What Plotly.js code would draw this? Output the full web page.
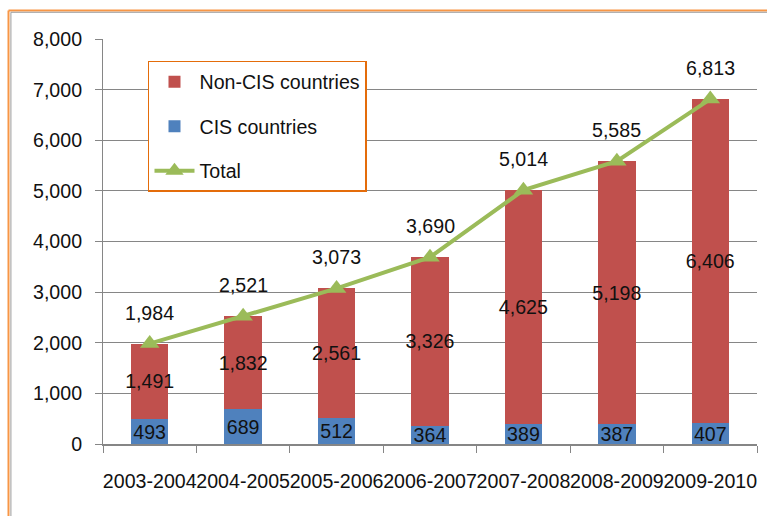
<!DOCTYPE html>
<html>
<head>
<meta charset="utf-8">
<script src="https://cdn.plot.ly/plotly-3.0.1.min.js"></script>
<style>html,body{margin:0;padding:0;background:#fff;}#chart{width:767px;height:516px;}</style>
</head>
<body>
<div id="chart"></div>
<script>
const categories = ["2003-2004","2004-2005","2005-2006","2006-2007","2007-2008","2008-2009","2009-2010"];
const cisCountries = [493, 689, 512, 364, 389, 387, 407];
const nonCisCountries = [1491, 1832, 2561, 3326, 4625, 5198, 6406];
const totals = [1984, 2521, 3073, 3690, 5014, 5585, 6813];
const yTicks = [0, 1000, 2000, 3000, 4000, 5000, 6000, 7000, 8000];

const fmt = v => v.toLocaleString('en-US');
const FONT = 'Liberation Sans, Arial, sans-serif';
const FS = 19.6;

const traces = [
  {
    type: 'bar', name: 'CIS countries', x: categories, y: cisCountries,
    marker: {color: '#4F81BD'}, text: cisCountries.map(fmt),
    textposition: 'inside', insidetextanchor: 'middle', textangle: 0, constraintext: 'none',
    insidetextfont: {color: '#111', size: FS, family: FONT},
    hoverinfo: 'skip', legendgroup: 'b', legendrank: 2
  },
  {
    type: 'bar', name: 'Non-CIS countries', x: categories, y: nonCisCountries,
    marker: {color: '#C0504D'}, text: nonCisCountries.map(fmt),
    textposition: 'inside', insidetextanchor: 'middle', textangle: 0, constraintext: 'none',
    insidetextfont: {color: '#111', size: FS, family: FONT},
    hoverinfo: 'skip', legendgroup: 'a', legendrank: 1
  },
  {
    type: 'scatter', mode: 'lines+markers', name: 'Total', x: categories, y: totals,
    line: {color: '#9BBB59', width: 4},
    marker: {symbol: 'triangle-up', size: 17, color: '#9BBB59'},
    hoverinfo: 'skip', legendgroup: 'c', legendrank: 3
  }
];

const annotations = categories.map((c, i) => ({
  x: c, y: totals[i], xref: 'x', yref: 'y', text: fmt(totals[i]),
  showarrow: false, yshift: 31, font: {size: FS, color: '#111', family: FONT}
}));

const layout = {
  width: 767, height: 516,
  margin: {l: 103, r: 10, t: 39, b: 72},
  paper_bgcolor: '#fff', plot_bgcolor: '#fff',
  barmode: 'stack', bargap: 0.6,
  font: {family: FONT, size: FS, color: '#111'},
  xaxis: {
    type: 'category', showgrid: false, showline: true, linecolor: '#868686', linewidth: 1.5,
    ticks: 'outside', tickson: 'boundaries', ticklen: 7, tickcolor: '#868686', tickwidth: 1,
    tickangle: 0, ticklabelstandoff: 19, tickfont: {size: FS, color: '#111', family: FONT}, zeroline: false
  },
  yaxis: {
    range: [0, 8000], tickvals: yTicks, ticktext: yTicks.map(fmt),
    showgrid: true, gridcolor: '#868686', gridwidth: 1,
    showline: true, linecolor: '#868686', linewidth: 1,
    ticks: 'outside', ticklen: 7, tickcolor: '#868686',
    ticklabelstandoff: 9, tickfont: {size: FS, color: '#111', family: FONT}, zeroline: false
  },
  showlegend: true,
  legend: {
    x: 0.0688, y: 0.9457, xanchor: 'left', yanchor: 'top',
    bordercolor: '#E46C0A', borderwidth: 1.5, bgcolor: '#fff',
    traceorder: 'grouped', tracegroupgap: 16, itemwidth: 40,
    font: {size: FS, color: '#111', family: FONT}
  },
  annotations: annotations,
  shapes: [
    {type: 'line', xref: 'paper', yref: 'paper', x0: -0.1445, x1: -0.1445, y0: -0.3, y1: 1.0704, line: {color: '#F79646', width: 2}},
    {type: 'line', xref: 'paper', yref: 'paper', x0: -0.1445, x1: 1.1, y0: 1.0704, y1: 1.0704, line: {color: '#F79646', width: 2}},
    {type: 'line', xref: 'paper', yref: 'paper', x0: -0.1408, x1: -0.1408, y0: -0.3, y1: 1.066, line: {color: '#9a9a9a', width: 1}},
    {type: 'line', xref: 'paper', yref: 'paper', x0: -0.1408, x1: 1.1, y0: 1.066, y1: 1.066, line: {color: '#9a9a9a', width: 1}}
  ]
};

Plotly.newPlot('chart', traces, layout, {staticPlot: true, displayModeBar: false});
</script>
</body>
</html>
